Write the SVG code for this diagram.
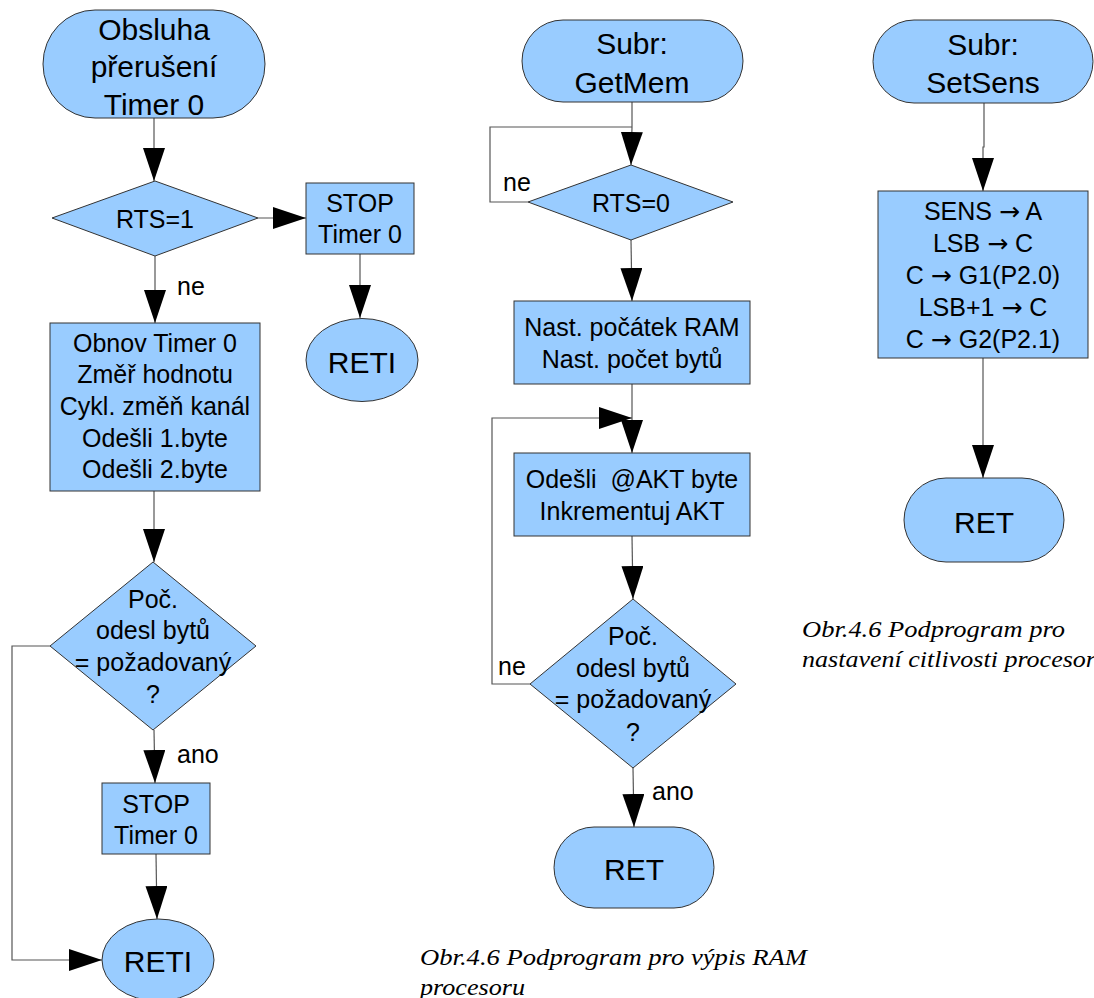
<svg xmlns="http://www.w3.org/2000/svg" width="1094" height="998" viewBox="0 0 1094 998">
<style>
.n{fill:#99ccff;stroke:#333;stroke-width:1}
.t{font-family:"Liberation Sans",Arial,sans-serif;font-size:25px;fill:#000;text-anchor:middle}
.h{font-family:"Liberation Sans",Arial,sans-serif;font-size:30px;fill:#000;text-anchor:middle}
.l{font-family:"Liberation Sans",Arial,sans-serif;font-size:25px;fill:#000}
.c{font-family:"Liberation Serif","Times New Roman",serif;font-style:italic;font-size:24px;fill:#000}
.e{fill:none;stroke:#555;stroke-width:1.2}
.a{font-family:"DejaVu Sans",sans-serif}
</style>
<defs>
<marker id="ah" markerUnits="userSpaceOnUse" markerWidth="34" markerHeight="24" refX="33" refY="11" orient="auto">
<path d="M0,0 L33,11 L0,22 z" fill="#000"/>
</marker>
</defs>
<rect width="1094" height="998" fill="#fff"/>

<g id="connectors">
<line class="e" x1="154" y1="118" x2="154" y2="181" marker-end="url(#ah)"/>
<line class="e" x1="258" y1="218" x2="306" y2="218" marker-end="url(#ah)"/>
<line class="e" x1="360" y1="254" x2="360" y2="318" marker-end="url(#ah)"/>
<line class="e" x1="155" y1="256" x2="155" y2="323" marker-end="url(#ah)"/>
<line class="e" x1="154" y1="491" x2="154" y2="562" marker-end="url(#ah)"/>
<line class="e" x1="154" y1="730" x2="155" y2="783" marker-end="url(#ah)"/>
<line class="e" x1="156" y1="854" x2="157" y2="919" marker-end="url(#ah)"/>
<polyline class="e" points="50,646 12,646 12,960 102,960" marker-end="url(#ah)"/>

<line class="e" x1="632" y1="102" x2="632" y2="127"/>
<polyline class="e" points="528,202 490,202 490,127 632,127"/>
<line class="e" x1="632" y1="127" x2="631" y2="165" marker-end="url(#ah)"/>
<line class="e" x1="631" y1="240" x2="632" y2="301" marker-end="url(#ah)"/>
<line class="e" x1="632" y1="384" x2="632" y2="453" marker-end="url(#ah)"/>
<polyline class="e" points="530,684 492,684 492,418 632,418" marker-end="url(#ah)"/>
<line class="e" x1="632" y1="536" x2="633" y2="599" marker-end="url(#ah)"/>
<line class="e" x1="633" y1="768" x2="634" y2="827" marker-end="url(#ah)"/>

<polyline class="e" points="984,103 984,147 983,147 983,191" marker-end="url(#ah)"/>
<line class="e" x1="983" y1="358" x2="983" y2="478" marker-end="url(#ah)"/>
</g>

<g id="start-obsluha">
<rect class="n" x="43" y="10" width="222" height="108" rx="52" ry="54"/>
<text class="h" x="154" y="40">Obsluha</text>
<text class="h" x="154" y="77">přerušení</text>
<text class="h" x="154" y="115">Timer 0</text>
</g>
<g id="dec-rts1">
<polygon class="n" points="155,181 258,218 155,256 52,218"/>
<text class="t" x="155" y="228">RTS=1</text>
</g>
<g id="stop1">
<rect class="n" x="306" y="183" width="108" height="71"/>
<text class="t" x="360" y="212">STOP</text>
<text class="t" x="360" y="243">Timer 0</text>
</g>
<g id="reti1">
<ellipse class="n" cx="362" cy="360" rx="56" ry="41.5"/>
<text class="h" x="362" y="373">RETI</text>
</g>
<g id="obnov">
<rect class="n" x="50" y="323" width="210" height="168"/>
<text class="t" x="155" y="352">Obnov Timer 0</text>
<text class="t" x="155" y="383">Změř hodnotu</text>
<text class="t" x="155" y="415">Cykl. změň kanál</text>
<text class="t" x="155" y="447">Odešli 1.byte</text>
<text class="t" x="155" y="478">Odešli 2.byte</text>
</g>
<g id="dec-poc1">
<polygon class="n" points="153,562 256,646 153,730 50,646"/>
<text class="t" x="153" y="608">Poč.</text>
<text class="t" x="153" y="639">odesl bytů</text>
<text class="t" x="153" y="671">= požadovaný</text>
<text class="t" x="153" y="703">?</text>
</g>
<g id="stop2">
<rect class="n" x="102" y="783" width="108" height="71"/>
<text class="t" x="156" y="813">STOP</text>
<text class="t" x="156" y="844">Timer 0</text>
</g>
<g id="reti2">
<ellipse class="n" cx="158" cy="960" rx="56" ry="41"/>
<text class="h" x="158" y="972">RETI</text>
</g>
<g id="labels-left">
<text class="l" x="177" y="295">ne</text>
<text class="l" x="177" y="763">ano</text>
</g>

<g id="start-getmem">
<rect class="n" x="522" y="20" width="221" height="82" rx="41" ry="41"/>
<text class="h" x="632" y="54">Subr:</text>
<text class="h" x="632" y="93">GetMem</text>
</g>
<g id="dec-rts0">
<polygon class="n" points="631,165 733,202 631,240 528,202"/>
<text class="t" x="631" y="212">RTS=0</text>
</g>
<g id="nast">
<rect class="n" x="514" y="301" width="236" height="83"/>
<text class="t" x="632" y="336">Nast. počátek RAM</text>
<text class="t" x="632" y="368">Nast. počet bytů</text>
</g>
<g id="odesli">
<rect class="n" x="514" y="453" width="236" height="83"/>
<text class="t" x="632" y="488" xml:space="preserve">Odešli  @AKT byte</text>
<text class="t" x="632" y="520">Inkrementuj AKT</text>
</g>
<g id="dec-poc2">
<polygon class="n" points="633,599 736,684 633,768 530,684"/>
<text class="t" x="633" y="645">Poč.</text>
<text class="t" x="633" y="677">odesl bytů</text>
<text class="t" x="633" y="708">= požadovaný</text>
<text class="t" x="633" y="741">?</text>
</g>
<g id="ret-mid">
<rect class="n" x="554" y="827" width="160" height="81" rx="40" ry="40.5"/>
<text class="h" x="634" y="880">RET</text>
</g>
<g id="labels-mid">
<text class="l" x="503" y="191">ne</text>
<text class="l" x="498" y="675">ne</text>
<text class="l" x="652" y="800">ano</text>
</g>
<g id="caption-mid">
<text class="c" x="420" y="965" textLength="387" lengthAdjust="spacingAndGlyphs">Obr.4.6 Podprogram pro výpis RAM</text>
<text class="c" x="420" y="995" textLength="105" lengthAdjust="spacingAndGlyphs">procesoru</text>
</g>

<g id="start-setsens">
<rect class="n" x="873" y="20" width="220" height="83" rx="41" ry="41.5"/>
<text class="h" x="983" y="55">Subr:</text>
<text class="h" x="983" y="93">SetSens</text>
</g>
<g id="sens">
<rect class="n" x="878" y="191" width="210" height="167"/>
<text class="t" x="983" y="220">SENS <tspan class="a">→</tspan> A</text>
<text class="t" x="983" y="252">LSB <tspan class="a">→</tspan> C</text>
<text class="t" x="983" y="284">C <tspan class="a">→</tspan> G1(P2.0)</text>
<text class="t" x="983" y="316">LSB+1 <tspan class="a">→</tspan> C</text>
<text class="t" x="983" y="348">C <tspan class="a">→</tspan> G2(P2.1)</text>
</g>
<g id="ret-right">
<rect class="n" x="904" y="478" width="160" height="84" rx="42" ry="42"/>
<text class="h" x="984" y="533">RET</text>
</g>
<g id="caption-right">
<text class="c" x="802" y="637" textLength="263" lengthAdjust="spacingAndGlyphs">Obr.4.6 Podprogram pro</text>
<text class="c" x="802" y="667" textLength="307" lengthAdjust="spacingAndGlyphs">nastavení citlivosti procesoru</text>
</g>
</svg>
